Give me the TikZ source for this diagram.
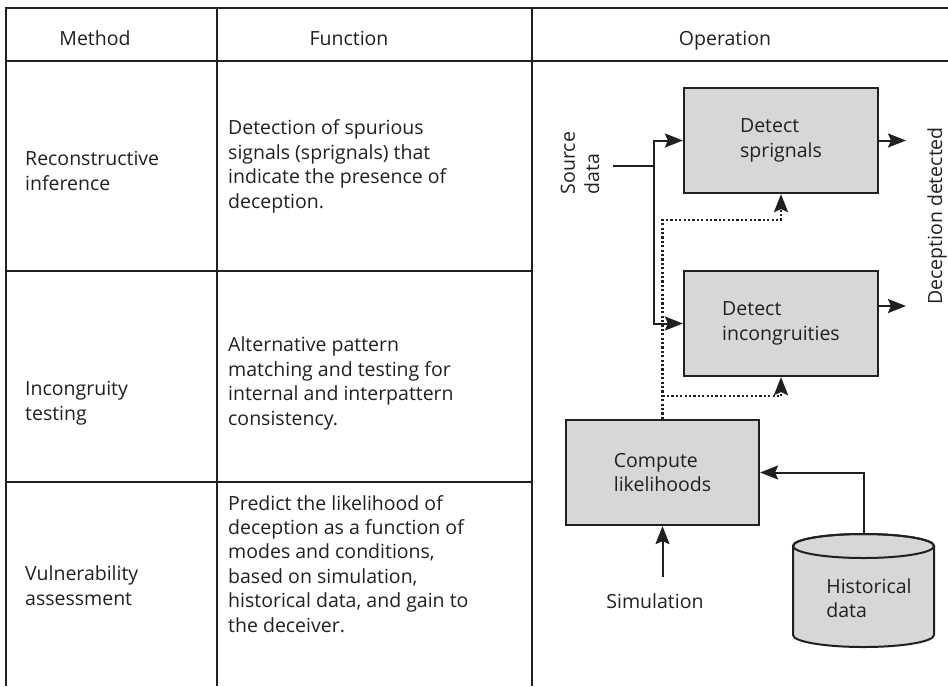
\documentclass[tikz,border=0pt]{standalone}
\usepackage{fontspec}
\setmainfont{Open Sans}
\usetikzlibrary{arrows.meta}
\definecolor{ink}{RGB}{35,31,32}
\definecolor{boxgray}{RGB}{214,215,217}
\begin{document}
\begin{tikzpicture}[x=1pt,y=-1pt,
  every node/.style={font=\fontsize{19.5}{24.4}\selectfont, text=ink, inner sep=0pt},
  rule/.style={draw=ink, line width=2pt},
  procbox/.style={draw=ink, fill=boxgray, line width=2.2pt, minimum width=194pt,
                  minimum height=105pt, align=left},
  arr/.style={draw=ink, line width=2pt, -{Stealth[length=18pt,width=14pt,inset=3pt]}},
  plainline/.style={draw=ink, line width=2pt},
  dotarr/.style={arr, line width=2.4pt, dash pattern=on 2.2pt off 2.2pt},
  cell/.style={align=left, anchor=base west}]
\useasboundingbox (0,0) rectangle (948,686);

% table grid
\draw[rule] (948,8) -- (6,8) -- (6,686);
\draw[rule] (6,61) -- (948,61);
\draw[rule] (217,8) -- (217,686);
\draw[rule] (532,8) -- (532,686);
\draw[rule] (6,271) -- (532,271);
\draw[rule] (6,482) -- (532,482);

% column heads
\node[anchor=base] (hmethod) at (95,45) {Method};
\node[anchor=base] (hfunc) at (349,45) {Function};
\node[anchor=base] (hop) at (725,45) {Operation};

% methods (anchored on the baseline of the last line)
\node[cell] (m1) at (25,190) {Reconstructive\\inference};
\node[cell] (m2) at (25,420) {Incongruity\\testing};
\node[cell] (m3) at (25,605) {Vulnerability\\assessment};

% functions (anchored on the baseline of the last line)
\node[cell] (f1) at (228,208) {Detection of spurious\\signals (sprignals) that\\indicate the presence of\\deception.};
\node[cell] (f2) at (228,425) {Alternative pattern\\matching and testing for\\internal and interpattern\\consistency.};
\node[cell] (f3) at (228,632) {Predict the likelihood of\\deception as a function of\\modes and conditions,\\based on simulation,\\historical data, and gain to\\the deceiver.};

% operation diagram
\node[procbox] (sprig) at (781,140.5) {Detect\\sprignals};
\node[procbox] (incong) at (781,323.5) {Detect\\incongruities};
\node[procbox, minimum width=193pt] (comp) at (662.5,472.5) {Compute\\likelihoods};

% historical data store
\filldraw[fill=boxgray, draw=ink, line width=2pt]
  (793,546) -- (793,635) arc[start angle=180, end angle=360, x radius=70.5pt, y radius=12pt]
  -- (934,546) arc[start angle=0, end angle=180, x radius=70.5pt, y radius=12pt] -- cycle;
\draw[draw=ink, line width=2pt] (863.5,546) ellipse [x radius=70.5pt, y radius=12pt];
\node[align=left] (hist) at (869,598) {Historical\\data};
\coordinate (histtop) at (863.5,534);

% inputs and outputs
\node[rotate=90, align=left] (src) at (580,163) {Source\\data};
\coordinate (srcend) at (613,166);
\coordinate (junc) at (654,166);
\draw[plainline] (srcend) -- (junc);
\draw[arr] (junc) |- (sprig.west);
\draw[arr] (junc) |- (incong.west);

\node[rotate=90] (detected) at (937,216) {Deception detected};
\coordinate (out1) at (906,140.5);
\coordinate (out2) at (906,306);
\draw[arr] (sprig.east) -- (out1);
\draw[arr] (incong.east |- out2) -- (out2);

\node (sim) at (655,601) {Simulation};
\coordinate (simtop) at (662.5,577);
\draw[arr] (simtop) -- (comp.south);

\draw[arr] (histtop) |- (comp.east);

\coordinate (tap1) at (662.5,220);
\coordinate (tap2) at (662.5,396);
\draw[dotarr] (comp.north) -- (tap1) -| (sprig.south);
\draw[dotarr] (tap2) -| (incong.south);
\end{tikzpicture}
\end{document}
